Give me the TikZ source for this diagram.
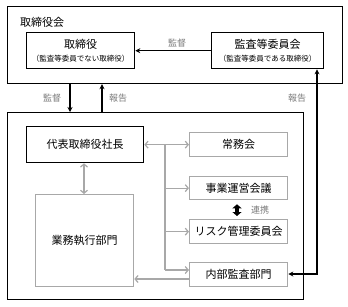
\documentclass[tikz,border=0pt]{standalone}
\usepackage{fontspec}
\setmainfont{Noto Sans CJK JP}
\usetikzlibrary{arrows.meta,calc}
\definecolor{boxgray}{HTML}{A8A8A8}
\definecolor{labgray}{HTML}{7A7A7A}
\tikzset{
  blackbox/.style={draw=black,line width=1.3pt,inner sep=0pt,align=center},
  graybox/.style={draw=boxgray,line width=1.3pt,inner sep=0pt,align=center},
  frame/.style={draw=black,line width=1.2pt,inner sep=0pt},
  lab/.style={text=labgray,font=\fontsize{9}{10}\selectfont,inner sep=0pt},
  bconn/.style={draw=black,line width=1.2pt,-{Stealth[length=5pt,width=5pt]}},
  gconn/.style={draw=boxgray,line width=1.2pt,-{Straight Barb[length=3pt,width=7pt]}},
  gdouble/.style={draw=boxgray,line width=1.2pt,{Straight Barb[length=3pt,width=7pt]}-{Straight Barb[length=3pt,width=7pt]}},
  maintxt/.style={font=\fontsize{11}{13}\selectfont},
}
\begin{document}
\begin{tikzpicture}[x=1pt,y=-1pt]
\useasboundingbox (0,0) rectangle (348,306);
% frames
\node (top) [frame,anchor=north west,minimum width=335pt,minimum height=77pt] at (7,6) {};
\node (bot) [frame,anchor=north west,minimum width=296pt,minimum height=187pt] at (7,112) {};
\node (tl) [anchor=west,inner sep=0pt,maintxt] at (20,22) {取締役会};
% top boxes
\node (dir) [blackbox,anchor=north west,minimum width=108pt,minimum height=36pt] at (26,32)
  {{\fontsize{11}{12}\selectfont 取締役}\\[1pt]{\fontsize{7.5}{8}\selectfont （監査等委員でない取締役）}};
\node (aud) [blackbox,anchor=north west,minimum width=112pt,minimum height=36pt] at (211,32)
  {{\fontsize{11}{12}\selectfont 監査等委員会}\\[1pt]{\fontsize{7.5}{8}\selectfont （監査等委員である取締役）}};
\draw[bconn] (aud.west) -- (dir.east);
\node (l1) [lab] at (177,43) {監督};
% lower boxes
\node (ceo) [blackbox,anchor=north west,minimum width=117pt,minimum height=36pt,maintxt] at (26,126) {代表取締役社長};
\node (jm) [graybox,anchor=north west,minimum width=98pt,minimum height=24pt,maintxt] at (189,132) {常務会};
\node (jg) [graybox,anchor=north west,minimum width=98pt,minimum height=23pt,maintxt] at (189,176) {事業運営会議};
\node (rk) [graybox,anchor=north west,minimum width=98pt,minimum height=24pt,maintxt] at (189,219) {リスク管理委員会};
\node (ia) [graybox,anchor=north west,minimum width=98pt,minimum height=24pt,maintxt] at (189,262) {内部監査部門};
\node (ex) [graybox,anchor=north west,minimum width=98pt,minimum height=92pt,maintxt] at (35,194) {業務執行部門};
% coordinates
\coordinate (xd) at (70,0);
\coordinate (xu) at (102,0);
\coordinate (xr) at (317,0);
\coordinate (yr) at (0,274);
\coordinate (xv) at (165,0);
\coordinate (ye) at (0,279);
\coordinate (yi) at (0,270);
% top-bottom connectors
\draw[bconn] (top.south -| xd) -- (bot.north -| xd);
\draw[bconn] (bot.north -| xu) -- (top.south -| xu);
\node (l2) [lab] at (52,98) {監督};
\node (l3) [lab] at (118,98) {報告};
\node (l4) [lab] at (297,98) {報告};
\draw[draw=black,line width=1.2pt,{Stealth[length=5pt,width=5pt]}-{Stealth[length=5pt,width=5pt]}]
  (ia.east |- yr) -- (xr |- yr) -- (aud.south -| xr);
% gray connectors
\draw[gdouble] (ceo.east) -- (jm.west);
\draw[draw=boxgray,line width=1.2pt] (ceo.east -| xv) -- (yi -| xv);
\draw[gconn] (jg.west -| xv) -- (jg.west);
\draw[gconn] (rk.west -| xv) -- (rk.west);
\draw[gconn] (yi -| xv) -- (ia.west |- yi);
\draw[gconn] (ia.west |- ye) -- (ex.east |- ye);
\draw[gdouble] (ceo.south -| 84,0) -- (ex.north -| 84,0);
% coop
\coordinate (xc) at (237,0);
\draw[draw=black,line width=3.2pt,{Triangle[length=4pt,width=9pt]}-{Triangle[length=4pt,width=9pt]}] ($(jg.south -| xc)+(0,4)$) -- ($(rk.north -| xc)+(0,-3)$);
\node (l5) [lab] at (260,210) {連携};
\end{tikzpicture}
\end{document}
